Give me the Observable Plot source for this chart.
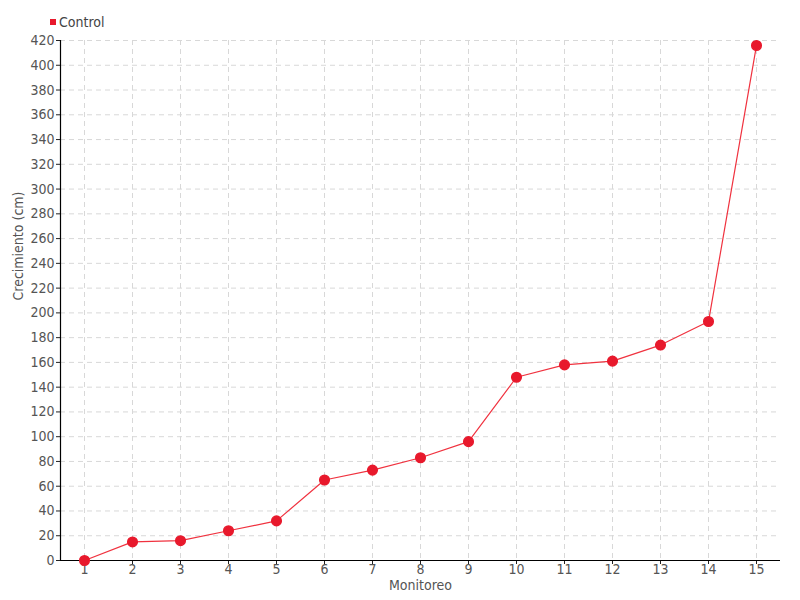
<!DOCTYPE html>
<html>
<head>
<meta charset="utf-8">
<script src="https://cdn.jsdelivr.net/npm/d3@7"></script>
<script src="https://cdn.jsdelivr.net/npm/@observablehq/plot@0.6"></script>
<style>
  body { margin: 0; background: #fff; font-family: "DejaVu Sans Condensed", "Liberation Sans Narrow", sans-serif; }
  #legend { height: 30px; position: relative; }
  #legend .sw { position: absolute; left: 50px; top: 19px; width: 6px; height: 6px; background: #e8192c; }
  #legend .lb { position: absolute; left: 59px; top: 14px; font-size: 14px; color: #444; }
</style>
</head>
<body>
<div id="legend"><span class="sw"></span><span class="lb">Control</span></div>
<div id="chart"></div>
<script>
const monitoreo = [1, 2, 3, 4, 5, 6, 7, 8, 9, 10, 11, 12, 13, 14, 15];
const control = [0, 15, 16, 24, 32, 65, 73, 83, 96, 148, 158, 161, 174, 193, 416];
const yTicks = d3.range(0, 421, 20);
const seriesName = "Control";

const data = monitoreo.map((m, i) => ({ m, v: control[i], s: seriesName }));

const chart = Plot.plot({
  width: 800,
  height: 570,
  marginTop: 10,
  marginBottom: 40,
  marginLeft: 60,
  marginRight: 20,
  style: { fontFamily: '"DejaVu Sans Condensed", "Liberation Sans Narrow", sans-serif', fontSize: "14px", color: "#555", background: "#fff" },
  x: { domain: [0.5, 15.5], ticks: monitoreo, tickFormat: d => String(d), label: null },
  y: { domain: [0, 420], ticks: yTicks, label: null },
  marks: [
    Plot.gridY(yTicks, { stroke: "#d8d8d8", strokeOpacity: 1, strokeDasharray: "5,4" }),
    Plot.gridX(monitoreo, { stroke: "#d8d8d8", strokeOpacity: 1, strokeDasharray: "5,4" }),
    Plot.axisY(yTicks, { tickSize: 4, tickPadding: 2, stroke: "#222", fill: "#555", fontSize: 14, label: null }),
    Plot.axisX(monitoreo, { tickSize: 4, tickPadding: 0, stroke: "#222", fill: "#555", fontSize: 14, label: null }),
    Plot.ruleX([0.5], { stroke: "#000", strokeWidth: 1.2 }),
    Plot.ruleY([0], { stroke: "#000", strokeWidth: 1.2 }),
    Plot.line(data, { x: "m", y: "v", stroke: "#f0323f", strokeWidth: 1.2 }),
    Plot.dot(data, { x: "m", y: "v", r: 4.8, fill: "#e8192c", stroke: "#e8192c" }),
    Plot.text(["Monitoreo"], { frameAnchor: "bottom", dy: 20, lineAnchor: "top", fill: "#555", fontSize: 14, text: d => d }),
    Plot.text(["Crecimiento (cm)"], { frameAnchor: "left", dx: -42, rotate: -90, fill: "#555", fontSize: 14, text: d => d })
  ]
});
document.getElementById("chart").appendChild(chart);
</script>
</body>
</html>
